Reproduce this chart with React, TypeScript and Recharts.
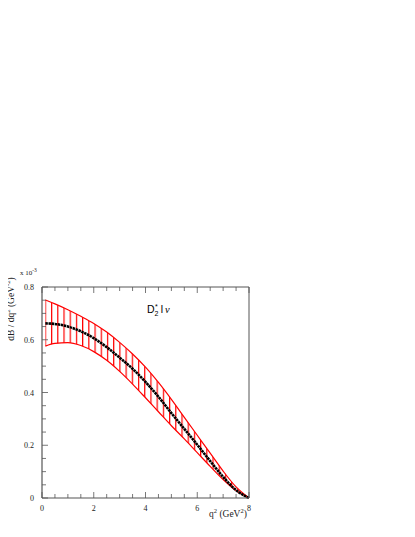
import React from "react";
import { ComposedChart, Area, Line, XAxis, YAxis } from "recharts";

// q^2 in GeV^2
const q2 = [0.13, 0.5, 1.0, 1.5, 2.0, 2.5, 3.0, 3.5, 4.0, 4.5, 5.0, 5.5, 6.0, 6.5, 7.0, 7.5, 8.0];
// dB/dq^2 in units of 1e-3
const central = [0.662, 0.66, 0.65, 0.632, 0.606, 0.572, 0.532, 0.49, 0.44, 0.384, 0.322, 0.262, 0.202, 0.14, 0.08, 0.03, 0.0];
const upper = [0.751, 0.736, 0.714, 0.689, 0.662, 0.629, 0.59, 0.546, 0.496, 0.438, 0.374, 0.306, 0.238, 0.17, 0.102, 0.042, 0.0];
const lower = [0.576, 0.586, 0.589, 0.578, 0.555, 0.522, 0.48, 0.432, 0.38, 0.327, 0.274, 0.224, 0.172, 0.12, 0.07, 0.028, 0.0];

const xTicks = [0, 0.5, 1, 1.5, 2, 2.5, 3, 3.5, 4, 4.5, 5, 5.5, 6, 6.5, 7, 7.5, 8];
const xLabels = [0, 2, 4, 6, 8];
const yTicks = [0, 0.05, 0.1, 0.15, 0.2, 0.25, 0.3, 0.35, 0.4, 0.45, 0.5, 0.55, 0.6, 0.65, 0.7, 0.75, 0.8];
const yLabels = [0, 0.2, 0.4, 0.6, 0.8];

const data = q2.map((q, i) => ({
  q,
  central: central[i],
  upper: upper[i],
  lower: lower[i],
  band: [lower[i], upper[i]],
}));

const AXIS = "#555";
const SERIF = "'Liberation Serif', 'DejaVu Serif', serif";
const SANS = "'Liberation Sans', Arial, sans-serif";

const isMajorX = (v: number) => xLabels.some((l) => Math.abs(l - v) < 1e-6);
const isMajorY = (v: number) => yLabels.some((l) => Math.abs(l - v) < 1e-6);

// ticks point inward, labels sit outside the frame
const BottomTick = (props: any) => {
  const { x, y, payload } = props;
  const major = isMajorX(payload.value);
  return (
    <g>
      <line x1={x} x2={x} y1={y} y2={y - (major ? 6 : 4)} stroke={AXIS} strokeWidth={0.8} />
      {major && (
        <text x={x} y={y + 13} textAnchor="middle" fontSize={8} fontFamily={SERIF} fill="#222">
          {payload.value}
        </text>
      )}
    </g>
  );
};

const TopTick = (props: any) => {
  const { x, y, payload } = props;
  const major = isMajorX(payload.value);
  return <line x1={x} x2={x} y1={y} y2={y + (major ? 6 : 4)} stroke={AXIS} strokeWidth={0.8} />;
};

const LeftTick = (props: any) => {
  const { x, y, payload } = props;
  const major = isMajorY(payload.value);
  return (
    <g>
      <line x1={x} x2={x + (major ? 6 : 4)} y1={y} y2={y} stroke={AXIS} strokeWidth={0.8} />
      {major && (
        <text x={x - 8} y={y + 3} textAnchor="end" fontSize={8} fontFamily={SERIF} fill="#222">
          {payload.value}
        </text>
      )}
    </g>
  );
};

const RightTick = (props: any) => {
  const { x, y, payload } = props;
  const major = isMajorY(payload.value);
  return <line x1={x} x2={x - (major ? 6 : 4)} y1={y} y2={y} stroke={AXIS} strokeWidth={0.8} />;
};

export default function App() {
  return (
    <div style={{ position: "relative", width: 407, height: 529 }}>
      <ComposedChart
        width={407}
        height={529}
        data={data}
        margin={{ top: 278, right: 165, bottom: 9, left: 4 }}
      >
        <defs>
          <pattern id="hatch" patternUnits="userSpaceOnUse" x={36.8} y={0} width={6.21} height={10}>
            <line x1={0.6} x2={0.6} y1={0} y2={10} stroke="#ff0000" strokeWidth={1.2} />
          </pattern>
        </defs>
        <XAxis
          xAxisId="b"
          dataKey="q"
          type="number"
          domain={[0, 8]}
          ticks={xTicks}
          interval={0}
          tickSize={0}
          tickMargin={0}
          height={30}
          tick={<BottomTick />}
          axisLine={{ stroke: AXIS, strokeWidth: 1.2 }}
        />
        <XAxis
          xAxisId="t"
          orientation="top"
          dataKey="q"
          type="number"
          domain={[0, 8]}
          ticks={xTicks}
          interval={0}
          tickSize={0}
          tickMargin={0}
          height={1}
          tick={<TopTick />}
          axisLine={{ stroke: AXIS, strokeWidth: 1 }}
        />
        <YAxis
          yAxisId="l"
          type="number"
          domain={[0, 0.8]}
          ticks={yTicks}
          interval={0}
          tickSize={0}
          tickMargin={0}
          width={30}
          tick={<LeftTick />}
          axisLine={{ stroke: AXIS, strokeWidth: 1.2 }}
        />
        <YAxis
          yAxisId="r"
          orientation="right"
          type="number"
          domain={[0, 0.8]}
          ticks={yTicks}
          interval={0}
          tickSize={0}
          tickMargin={0}
          width={1}
          tick={<RightTick />}
          axisLine={{ stroke: AXIS, strokeWidth: 1 }}
        />
        <Area
          xAxisId="b"
          yAxisId="l"
          type="monotone"
          dataKey="band"
          stroke="none"
          fill="url(#hatch)"
          fillOpacity={1}
          isAnimationActive={false}
        />
        <Line xAxisId="b" yAxisId="l" type="monotone" dataKey="upper" stroke="#ff0000" strokeWidth={1.2} dot={false} isAnimationActive={false} />
        <Line xAxisId="b" yAxisId="l" type="monotone" dataKey="lower" stroke="#ff0000" strokeWidth={1.2} dot={false} isAnimationActive={false} />
        <Line xAxisId="b" yAxisId="l" type="monotone" dataKey="central" stroke="#000" strokeWidth={2.6} strokeDasharray="2.5 0.6" dot={false} isAnimationActive={false} />
      </ComposedChart>
      <svg
        width={407}
        height={529}
        style={{ position: "absolute", left: 0, top: 0, pointerEvents: "none", overflow: "visible" }}
      >
        <text x={12} y={267} fontSize={7} fontFamily={SERIF} fill="#222">
          x 10<tspan dy={-3} fontSize={5.5}>-3</tspan>
        </text>
        <text
          transform="translate(6,301) rotate(-90)"
          textAnchor="middle"
          fontSize={9.5}
          fontFamily={SERIF}
          fill="#222"
        >
          dB / dq<tspan dy={-4} fontSize={6.5}>2</tspan>
          <tspan dy={4}> (GeV</tspan>
          <tspan dy={-4} fontSize={6.5}>-2</tspan>
          <tspan dy={4}>)</tspan>
        </text>
        <text x={201} y={509} fontSize={9.5} fontFamily={SERIF} fill="#222">
          q<tspan dy={-4} fontSize={6.5}>2</tspan>
          <tspan dy={4}> (GeV</tspan>
          <tspan dy={-4} fontSize={6.5}>2</tspan>
          <tspan dy={4}>)</tspan>
        </text>
        <text x={139} y={305} fontSize={10.5} fontFamily={SANS} fill="#000">
          D<tspan dy={2.5} fontSize={7}>2</tspan>
          <tspan dx={-3.5} dy={-7} fontSize={7}>*</tspan>
          <tspan dx={3} dy={4.5}>l</tspan>
          <tspan dx={2} fontFamily={SERIF} fontStyle="italic">ν</tspan>
        </text>
      </svg>
    </div>
  );
}
